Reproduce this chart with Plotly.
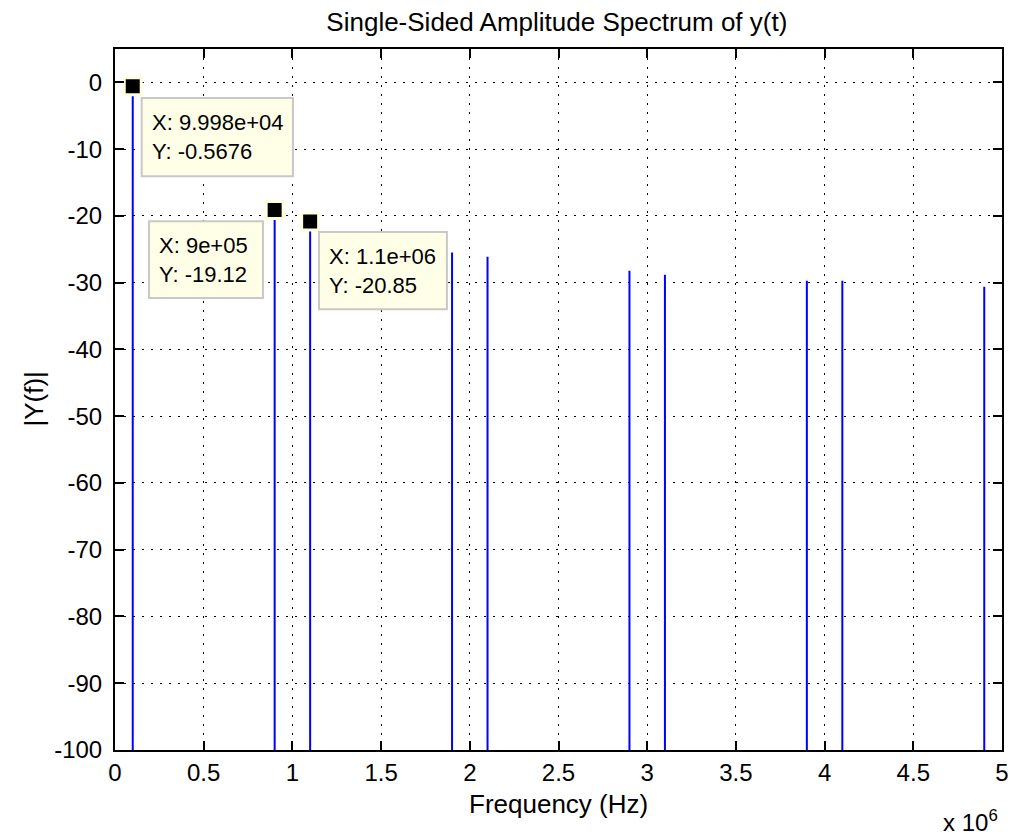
import plotly.graph_objects as go

# ---- data ----
freqs = [0.09998e6, 0.9e6, 1.1e6, 1.9e6, 2.1e6, 2.9e6, 3.1e6, 3.9e6, 4.1e6, 4.9e6]
amps = [-0.5676, -19.12, -20.85, -25.5, -26.1, -28.2, -28.8, -29.7, -29.7, -30.6]
tip_idx = [0, 1, 2]
tip_labels = ["X: 9.998e+04<br>Y: -0.5676", "X: 9e+05<br>Y: -19.12", "X: 1.1e+06<br>Y: -20.85"]
x_ticks = [0, 0.5e6, 1e6, 1.5e6, 2e6, 2.5e6, 3e6, 3.5e6, 4e6, 4.5e6, 5e6]
x_ticktext = ["0", "0.5", "1", "1.5", "2", "2.5", "3", "3.5", "4", "4.5", "5"]
y_ticks = [0, -10, -20, -30, -40, -50, -60, -70, -80, -90, -100]
y_ticktext = ["0", "-10", "-20", "-30", "-40", "-50", "-60", "-70", "-80", "-90", "-100"]
floor_val = -200

FONT = "Liberation Sans, Arial, sans-serif"

# spikes built from data
xs, ys = [], []
for f, a in zip(freqs, amps):
    xs += [f, f, None]
    ys += [floor_val, a, None]

fig = go.Figure()
fig.add_trace(go.Scatter(x=xs, y=ys, mode="lines",
                         line=dict(color="#0000FF", width=2), hoverinfo="skip",
                         showlegend=False))
fig.add_trace(go.Scatter(x=[freqs[i] for i in tip_idx], y=[amps[i] for i in tip_idx],
                         mode="markers",
                         marker=dict(symbol="square", size=17, color="black",
                                     line=dict(color="#FFFFE0", width=3)),
                         showlegend=False, cliponaxis=False))

# data tip boxes (position in data coords)
boxes = [
    (0.1505e6, 1.003e6, -2.35, -14.05),
    (0.1917e6, 0.834e6, -20.8, -32.3),
    (1.150e6, 1.871e6, -22.4, -34.0),
]
for (x0, x1, y0, y1), lab in zip(boxes, tip_labels):
    fig.add_shape(type="rect", x0=x0, x1=x1, y0=y0, y1=y1, xref="x", yref="y",
                  fillcolor="#FFFFE8", line=dict(color="#C8C8C8", width=2), layer="above")
    fig.add_annotation(x=x0 + 0.047e6, y=(y0 + y1) / 2, xref="x", yref="y",
                       text=lab, showarrow=False, xanchor="left", yanchor="middle",
                       align="left", font=dict(family=FONT, size=22, color="black"))

fig.add_annotation(x=0.5, y=-0.0777, xref="paper", yref="paper", text="Frequency (Hz)",
                   showarrow=False, xanchor="center", yanchor="middle",
                   font=dict(family=FONT, size=26, color="black"))
fig.add_annotation(x=-0.0924, y=0.5, xref="paper", yref="paper", text="|Y(f)|",
                   showarrow=False, xanchor="center", yanchor="middle", textangle=-90,
                   font=dict(family=FONT, size=26, color="black"))
fig.add_annotation(x=0.9977, y=-0.1019, xref="paper", yref="paper", text="x 10<sup>6</sup>",
                   showarrow=False, xanchor="right", yanchor="middle",
                   font=dict(family=FONT, size=24, color="black"))

axis_common = dict(showline=True, linecolor="black", linewidth=2, mirror="ticks",
                   ticks="inside", ticklen=9, tickwidth=2, tickcolor="black",
                   showgrid=True, gridcolor="black", gridwidth=1, griddash="2px,7px",
                   zeroline=False, automargin=False,
                   tickfont=dict(family=FONT, size=24, color="black"))

fig.update_layout(
    width=1013, height=837,
    margin=dict(l=115, r=11, t=49, b=86.5),
    paper_bgcolor="white", plot_bgcolor="white",
    title=dict(text="Single-Sided Amplitude Spectrum of y(t)", x=0.5497, xanchor="center",
               y=1 - 22 / 837, yanchor="middle", yref="container",
               font=dict(family=FONT, size=26, color="black")),
    xaxis=dict(range=[0, 5e6], tickvals=x_ticks, ticktext=x_ticktext, **axis_common),
    yaxis=dict(range=[-100, 5], tickvals=y_ticks, ticktext=y_ticktext,
               ticklabelstandoff=6, **axis_common),
)

fig.write_html("out.html", config={"displayModeBar": False},
               post_script="document.body.style.margin='0';")
